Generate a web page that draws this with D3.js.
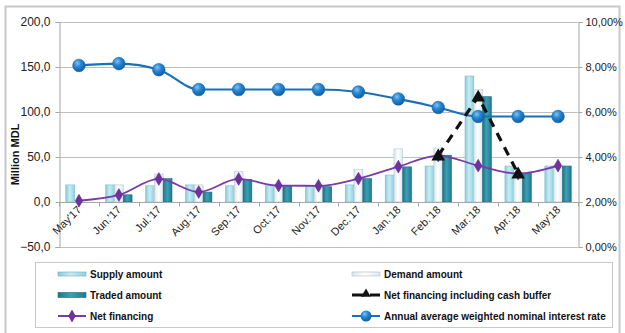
<!DOCTYPE html>
<html>
<head>
<meta charset="utf-8">
<script src="https://cdn.jsdelivr.net/npm/d3@7"></script>
<style>
  html, body { margin: 0; padding: 0; background: #fff; }
  svg { display: block; font-family: "Liberation Sans", Arial, sans-serif; }
</style>
</head>
<body>
<svg id="chart" width="625" height="333"></svg>
<script>
// Monthly auction results, million MDL, and the average interest rate (%)
const months = ["May'17", "Jun.'17", "Jul.'17", "Aug.'17", "Sep.'17", "Oct.'17", "Nov.'17",
                "Dec.'17", "Jan.'18", "Feb.'18", "Mar.'18", "Apr.'18", "May'18"];
const supplyAmount = [19, 19, 18, 19, 18, 18, 18, 19, 30, 40, 140, 40, 40];
const demandAmount = [0, 19, 31, 19, 34, 18, 18, 36, 59, 60, 125, 33, 40];
const tradedAmount = [0, 8, 26, 11, 25, 18, 17, 26, 39, 52, 117, 32, 40];
const netFinancing = [1.4, 7.8, 25.6, 11.1, 25.6, 18.2, 18.0, 26.0, 39.3, 51.6, 40.4, 31.5, 40.4];
const netFinancingBuffer = [null, null, null, null, null, null, null, null, null, 51.6, 117, 31.5, null];
const interestRate = [8.07, 8.15, 7.88, 7.0, 7.0, 7.0, 7.0, 6.89, 6.58, 6.2, 5.8, 5.8, 5.8];
const leftTicks = [-50, 0, 50, 100, 150, 200];
const rightTicks = [0, 2, 4, 6, 8, 10];

const svg = d3.select("#chart");
const plot = { left: 59, right: 578, top: 22, bottom: 247 };

const x = d3.scaleBand().domain(months).range([plot.left, plot.right]).padding(0);
const y = d3.scaleLinear().domain([-50, 200]).range([plot.bottom, plot.top]);
const yR = d3.scaleLinear().domain([0, 10]).range([plot.bottom, plot.top]);
const fmt1 = v => d3.format(".1f")(v).replace(".", ",");
const fmt2 = v => d3.format(".2f")(v).replace(".", ",") + "%";

// gradients
const defs = svg.append("defs");
function hGrad(id, stops) {
  const g = defs.append("linearGradient").attr("id", id).attr("x1", 0).attr("x2", 1).attr("y1", 0).attr("y2", 0);
  stops.forEach(([o, c]) => g.append("stop").attr("offset", o).attr("stop-color", c));
}
hGrad("gSupply", [[0, "#86cadb"], [0.45, "#c9ecf4"], [1, "#8fd0df"]]);
hGrad("gDemand", [[0, "#d6e6ec"], [0.45, "#ffffff"], [1, "#d9e9ee"]]);
hGrad("gTraded", [[0, "#1d7488"], [0.45, "#3d9fb4"], [1, "#1f7a8f"]]);
const rg = defs.append("radialGradient").attr("id", "gDot").attr("cx", 0.38).attr("cy", 0.32).attr("r", 0.7);
rg.append("stop").attr("offset", 0).attr("stop-color", "#7cc4f5");
rg.append("stop").attr("offset", 0.45).attr("stop-color", "#2585d3");
rg.append("stop").attr("offset", 1).attr("stop-color", "#135d9c");

// outer frame
svg.append("rect").attr("x", 5.5).attr("y", 6.5).attr("width", 614).attr("height", 330)
  .attr("fill", "none").attr("stroke", "#c8c8c8").attr("stroke-width", 2);

// gridlines
svg.append("g").selectAll("line").data(leftTicks).join("line")
  .attr("x1", plot.left).attr("x2", plot.right)
  .attr("y1", d => Math.round(y(d)) + 0.5).attr("y2", d => Math.round(y(d)) + 0.5)
  .attr("stroke", "#bfbfbf").attr("stroke-width", 1);

// left axis
const gl = svg.append("g").attr("transform", `translate(${plot.left + 0.5},0)`)
  .call(d3.axisLeft(y).tickValues(leftTicks).tickFormat(fmt1).tickSize(4).tickPadding(5));
gl.select(".domain").attr("stroke", "#a6a6a6");
gl.selectAll(".tick line").attr("stroke", "#a6a6a6");
gl.selectAll("text").attr("font-size", 12).attr("fill", "#222");

// right axis
const gr = svg.append("g").attr("transform", `translate(${plot.right + 0.5},0)`)
  .call(d3.axisRight(yR).tickValues(rightTicks).tickFormat(fmt2).tickSize(4).tickPadding(3));
gr.select(".domain").attr("stroke", "#a6a6a6");
gr.selectAll(".tick line").attr("stroke", "#a6a6a6");
gr.selectAll("text").attr("font-size", 11).attr("fill", "#222");

// axis title
svg.append("text").attr("transform", `translate(19,${(plot.top + plot.bottom) / 2 + 20}) rotate(-90)`)
  .attr("text-anchor", "middle").attr("font-size", 11).attr("font-weight", "bold").attr("fill", "#111")
  .text("Million MDL");

// bars
const sub = d3.scaleBand().domain(["s", "d", "t"]).range([0, x.bandwidth() * 0.66]);
const groupOff = (x.bandwidth() - x.bandwidth() * 0.66) / 2;
const barSeries = [
  { key: "s", vals: supplyAmount, fill: "url(#gSupply)", stroke: "#7dbfcf" },
  { key: "d", vals: demandAmount, fill: "url(#gDemand)", stroke: "#b9c9cf" },
  { key: "t", vals: tradedAmount, fill: "url(#gTraded)", stroke: "#1b6b7d" }
];
const gb = svg.append("g");
barSeries.forEach(s => {
  gb.selectAll(null).data(months).join("rect")
    .attr("x", (m) => x(m) + groupOff + sub(s.key))
    .attr("width", sub.bandwidth())
    .attr("y", (m, i) => y(s.vals[i]))
    .attr("height", (m, i) => y(0) - y(s.vals[i]))
    .attr("fill", s.fill).attr("stroke", s.stroke).attr("stroke-width", 0.6)
    .attr("display", (m, i) => s.vals[i] > 0 ? null : "none");
});

// x axis at zero with ticks at category boundaries
const y0 = Math.round(y(0)) + 0.5;
svg.append("line").attr("x1", plot.left).attr("x2", plot.right).attr("y1", y0).attr("y2", y0)
  .attr("stroke", "#a6a6a6");
svg.append("g").selectAll("line").data(months.concat(["end"])).join("line")
  .attr("x1", (m, i) => Math.round(plot.left + i * x.step()) + 0.5)
  .attr("x2", (m, i) => Math.round(plot.left + i * x.step()) + 0.5)
  .attr("y1", y0).attr("y2", y0 + 4).attr("stroke", "#a6a6a6");
svg.append("g").selectAll("text").data(months).join("text")
  .attr("transform", m => `translate(${x(m) + x.bandwidth() / 2 + 3},${y0 + 8}) rotate(-45)`)
  .attr("text-anchor", "end").attr("font-size", 11).attr("fill", "#222")
  .text(m => m);

// interest rate line (right axis)
const rateLine = d3.line().x((d, i) => x(months[i]) + x.bandwidth() / 2).y(d => yR(d)).curve(d3.curveMonotoneX);
svg.append("path").datum(interestRate).attr("d", rateLine)
  .attr("fill", "none").attr("stroke", "#1a71b8").attr("stroke-width", 2.2);
svg.append("g").selectAll("circle").data(interestRate).join("circle")
  .attr("cx", (d, i) => x(months[i]) + x.bandwidth() / 2).attr("cy", d => yR(d)).attr("r", 6.3)
  .attr("fill", "url(#gDot)").attr("stroke", "#1a64a4").attr("stroke-width", 0.6);

// net financing line
const nfLine = d3.line().x((d, i) => x(months[i]) + x.bandwidth() / 2).y(d => y(d)).curve(d3.curveMonotoneX);
svg.append("path").datum(netFinancing).attr("d", nfLine)
  .attr("fill", "none").attr("stroke", "#7a3aa8").attr("stroke-width", 1.8);
const diamond = d3.symbol().type(d3.symbolDiamond).size(48);
svg.append("g").selectAll("path").data(netFinancing).join("path")
  .attr("transform", (d, i) => `translate(${x(months[i]) + x.bandwidth() / 2},${y(d)})`)
  .attr("d", diamond).attr("fill", "#7030a0").attr("stroke", "#5a2385").attr("stroke-width", 0.5);

// net financing including cash buffer
const bufLine = d3.line().defined(d => d != null)
  .x((d, i) => x(months[i]) + x.bandwidth() / 2).y(d => y(d));
svg.append("path").datum(netFinancingBuffer).attr("d", bufLine)
  .attr("fill", "none").attr("stroke", "#111").attr("stroke-width", 3.2).attr("stroke-dasharray", "9,7");
const tri = d3.symbol().type(d3.symbolTriangle).size(80);
svg.append("g").selectAll("path").data(netFinancingBuffer.map((d, i) => ({ d, i })).filter(o => o.d != null)).join("path")
  .attr("transform", o => `translate(${x(months[o.i]) + x.bandwidth() / 2},${y(o.d) + 1})`)
  .attr("d", tri).attr("fill", "#111");

// legend
const lg = svg.append("g");
lg.append("rect").attr("x", 35.5).attr("y", 262.5).attr("width", 577).attr("height", 65)
  .attr("fill", "#fff").attr("stroke", "#c8c8c8");
const rows = [274, 295, 316];
const colA = 58, colB = 352;
function legendText(xp, yp, t) {
  lg.append("text").attr("x", xp + 32).attr("y", yp + 4).attr("font-size", 10).attr("font-weight", "bold")
    .attr("fill", "#111").text(t);
}
// bar symbols
lg.append("rect").attr("x", colA).attr("y", rows[0] - 2).attr("width", 28).attr("height", 4)
  .attr("fill", "url(#gSupply)").attr("stroke", "#6fb3c4").attr("stroke-width", 0.6);
legendText(colA, rows[0], "Supply amount");
lg.append("rect").attr("x", colB).attr("y", rows[0] - 2).attr("width", 28).attr("height", 4)
  .attr("fill", "url(#gDemand)").attr("stroke", "#b0bec4").attr("stroke-width", 0.6);
legendText(colB, rows[0], "Demand amount");
lg.append("rect").attr("x", colA).attr("y", rows[1] - 2.5).attr("width", 28).attr("height", 5)
  .attr("fill", "url(#gTraded)").attr("stroke", "#1b6b7d").attr("stroke-width", 0.6);
legendText(colA, rows[1], "Traded amount");
// cash buffer symbol
lg.append("line").attr("x1", colB).attr("x2", colB + 28).attr("y1", rows[1]).attr("y2", rows[1])
  .attr("stroke", "#111").attr("stroke-width", 3).attr("stroke-dasharray", "12,6");
lg.append("path").attr("transform", `translate(${colB + 14},${rows[1] - 1})`).attr("d", d3.symbol().type(d3.symbolTriangle).size(40)).attr("fill", "#111");
legendText(colB, rows[1], "Net financing including cash buffer");
// net financing symbol
lg.append("line").attr("x1", colA).attr("x2", colA + 28).attr("y1", rows[2]).attr("y2", rows[2])
  .attr("stroke", "#7a3aa8").attr("stroke-width", 2);
lg.append("path").attr("transform", `translate(${colA + 14},${rows[2]})`).attr("d", diamond).attr("fill", "#7030a0");
legendText(colA, rows[2], "Net financing");
// interest rate symbol
lg.append("line").attr("x1", colB).attr("x2", colB + 28).attr("y1", rows[2]).attr("y2", rows[2])
  .attr("stroke", "#1a71b8").attr("stroke-width", 2);
lg.append("circle").attr("cx", colB + 14).attr("cy", rows[2]).attr("r", 5.5).attr("fill", "url(#gDot)");
legendText(colB, rows[2], "Annual average weighted nominal interest rate");
</script>
</body>
</html>
